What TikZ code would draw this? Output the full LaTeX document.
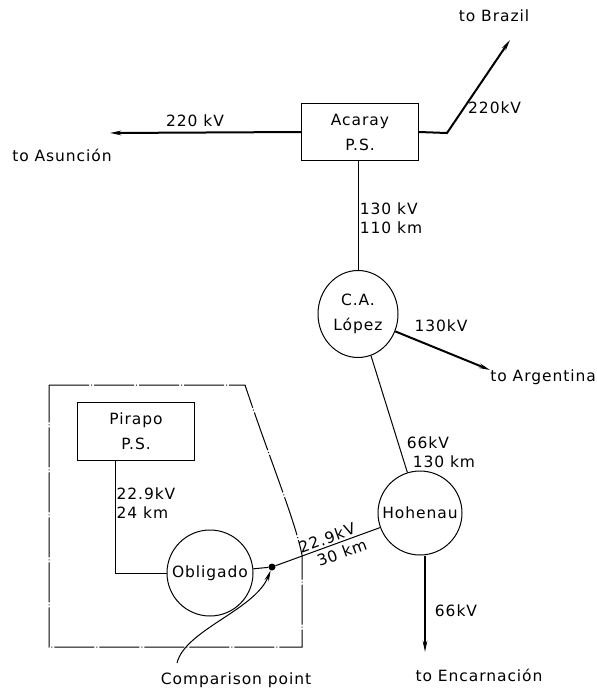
\documentclass[tikz,border=0pt]{standalone}
\usepackage{fontspec}
\setmainfont{DejaVu Sans}
\usetikzlibrary{shapes.geometric,arrows.meta}
\begin{document}
\begin{tikzpicture}[x=1pt,y=-1pt,
  lbl/.style={font=\fontsize{15.5}{19}\selectfont\addfontfeature{LetterSpace=6}, inner sep=1pt},
  station/.style={draw, line width=1pt, align=center, font=\fontsize{15.5}{25}\selectfont\addfontfeature{LetterSpace=6}},
  thinline/.style={line width=1pt},
  thickline/.style={line width=2pt},
  arr/.style={-{Stealth[length=11pt,width=4.5pt]}},
  region/.style={line width=1pt, dash pattern=on 40pt off 2pt on 1pt off 2pt}]
\useasboundingbox (0,0) rectangle (597,691);
% stations
\node[station, rectangle, minimum width=117pt, minimum height=57pt] (acaray) at (360,132) {Acaray\\P.S.};
\node[station, ellipse, minimum width=80pt, minimum height=87pt, inner sep=0pt] (lopez) at (358,314) {C.A.\\López};
\node[station, circle, minimum size=84pt, inner sep=0pt] (hohenau) at (420,513) {Hohenau};
\node[station, circle, minimum size=86pt, inner sep=0pt] (obligado) at (210,573) {Obligado};
\node[station, rectangle, minimum width=117pt, minimum height=58pt] (pirapo) at (136,431) {Pirapo\\P.S.};
\node[circle, fill, minimum size=7pt, inner sep=0pt] (dot) at (272,567) {};
% free ends
\coordinate (asun) at (110,133);
\coordinate (bend) at (447,133);
\coordinate (brazil) at (510,40);
\coordinate (arg) at (490,370);
\coordinate (enc) at (425,652);
\coordinate (pbend) at (115,573);
\coordinate (cstart) at (177,663);
% region boundary
\draw[region] (49,385) -- (245,385) .. controls (270,460) and (295,520) .. (302,555) -- (302,647) -- (49,647) -- cycle;
% connectors
\draw[thickline, arr] (acaray.west) -- (asun);
\draw[thickline, arr] (acaray.east) -- (bend) -- (brazil);
\draw[thinline] (acaray.south -| lopez.north) -- (lopez.north);
\draw[thickline, arr] (lopez.-25) -- (arg);
\draw[thinline] (lopez) -- (hohenau);
\draw[thickline, arr] (hohenau.south -| enc) -- (enc);
\draw[thinline] (pirapo.south -| pbend) -- (pbend) -- (obligado.west);
\draw[thinline] (obligado) -- (dot);
\draw[thinline] (dot) -- node[lbl, pos=0.52, above=1pt, sloped] (l10) {22.9kV}
                        node[lbl, pos=0.6, below=3pt, sloped] (l11) {30 km} (hohenau);
\draw[thinline, arr] (cstart) .. controls (185,630) and (255,610) .. (dot);
% labels
\node[lbl] (l1) at (195,121) {220 kV};
\node[lbl] (l2) at (62,155) {to Asunción};
\node[lbl] (l3) at (494,16) {to Brazil};
\node[lbl, anchor=west] (l4) at (467,108) {220kV};
\node[lbl, align=left] (l5) at (391,218) {130 kV\\110 km};
\node[lbl] (l6) at (441,326) {130kV};
\node[lbl, anchor=east] (l7) at (597,377) {to Argentina};
\node[lbl, align=left] (l8) at (441,452) {66kV\\\ 130 km};
\node[lbl, align=left] (l9) at (146,503) {22.9kV\\24 km};
\node[lbl] (l12) at (456,611) {66kV};
\node[lbl] (l13) at (479,675) {to Encarnación};
\node[lbl] (l14) at (236,680) {Comparison point};
\end{tikzpicture}
\end{document}
